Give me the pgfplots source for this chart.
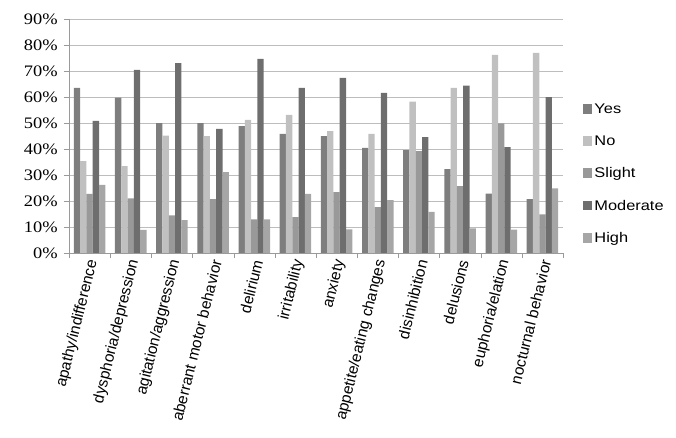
\documentclass[border=0pt]{standalone}
\usepackage{pgfplots}
\pgfplotsset{compat=1.18}
\usepackage{fontspec}
\setmainfont{Liberation Sans}
\newfontfamily\serifnum{Liberation Serif}
\definecolor{cYes}{HTML}{7E7E7E}
\definecolor{cNo}{HTML}{C0C0C0}
\definecolor{cSlight}{HTML}{999999}
\definecolor{cMod}{HTML}{6E6E6E}
\definecolor{cHigh}{HTML}{A6A6A6}
\definecolor{gridc}{HTML}{BDBDBD}
\definecolor{axc}{HTML}{9A9A9A}
\newcommand{\widetxt}[1]{\scalebox{1.17}[1]{#1}}
\begin{document}
\begin{tikzpicture}
\path[use as bounding box] (-69pt,-185pt) rectangle (607pt,253pt);
\begin{axis}[
  scale only axis,
  width=494pt, height=234pt,
  ybar=0pt, bar width=6.3pt,
  xmin=-0.5, xmax=11.5,
  ymin=0, ymax=90,
  ytick={0,10,...,90},
  xtick={0,...,11},
  xticklabels={apathy/indifference,dysphoria/depression,agitation/aggression,aberrant motor behavior,delirium,irritability,anxiety,appetite/eating changes,disinhibition,delusions,euphoria/elation,nocturnal behavior},
  minor xtick={-0.5,0.5,...,11.5},
  major x tick style={draw=none},
  minor x tick style={draw=axc},
  y tick style={draw=axc},
  tick align=outside,
  major tick length=5pt, minor tick length=5pt,
  ymajorgrids, grid style={draw=gridc, line width=0.8pt},
  axis x line*=bottom, axis y line*=left,
  axis line style={draw=axc, line width=0.8pt, -},
  /pgf/number format/assume math mode=true,
  yticklabel={\pgfmathprintnumber{\tick}\%},
  yticklabel style={font=\serifnum\fontsize{16}{16}\selectfont, xscale=1.15, xshift=-2pt},
  xticklabel style={font=\fontsize{15.5}{15.5}\selectfont, rotate=76, anchor=east, inner sep=1pt, yshift=-4pt},
  legend style={draw=none, fill=none, at={(1.04,0.338)}, anchor=west, inner sep=0pt,
    font=\fontsize{14}{14}\selectfont, row sep=16.8pt, cells={anchor=west}},
  legend image code/.code={\fill[#1] (0pt,-4.5pt) rectangle (9.5pt,5pt);},
  every axis plot/.append style={draw=none},
]
\addplot[fill=cYes] coordinates {(0,63.5) (1,59.8) (2,50.0) (3,50.0) (4,48.8) (5,45.8) (6,45.0) (7,40.4) (8,39.6) (9,32.3) (10,22.8) (11,20.7)};
\addplot[fill=cNo] coordinates {(0,35.3) (1,33.4) (2,45.1) (3,45.0) (4,51.2) (5,53.1) (6,46.9) (7,45.8) (8,58.2) (9,63.5) (10,76.2) (11,77.0)};
\addplot[fill=cSlight] coordinates {(0,22.7) (1,21.0) (2,14.5) (3,20.7) (4,12.9) (5,13.8) (6,23.4) (7,17.6) (8,39.2) (9,25.7) (10,49.9) (11,14.9)};
\addplot[fill=cMod] coordinates {(0,50.8) (1,70.4) (2,73.0) (3,47.7) (4,74.7) (5,63.5) (6,67.4) (7,61.6) (8,44.6) (9,64.4) (10,40.7) (11,60.0)};
\addplot[fill=cHigh] coordinates {(0,26.2) (1,8.9) (2,12.6) (3,31.1) (4,12.9) (5,22.7) (6,9.1) (7,20.3) (8,15.8) (9,9.5) (10,9.0) (11,24.9)};
\legend{\widetxt{Yes},\widetxt{No},\widetxt{Slight},\widetxt{Moderate},\widetxt{High}}
\end{axis}
\end{tikzpicture}
\end{document}
